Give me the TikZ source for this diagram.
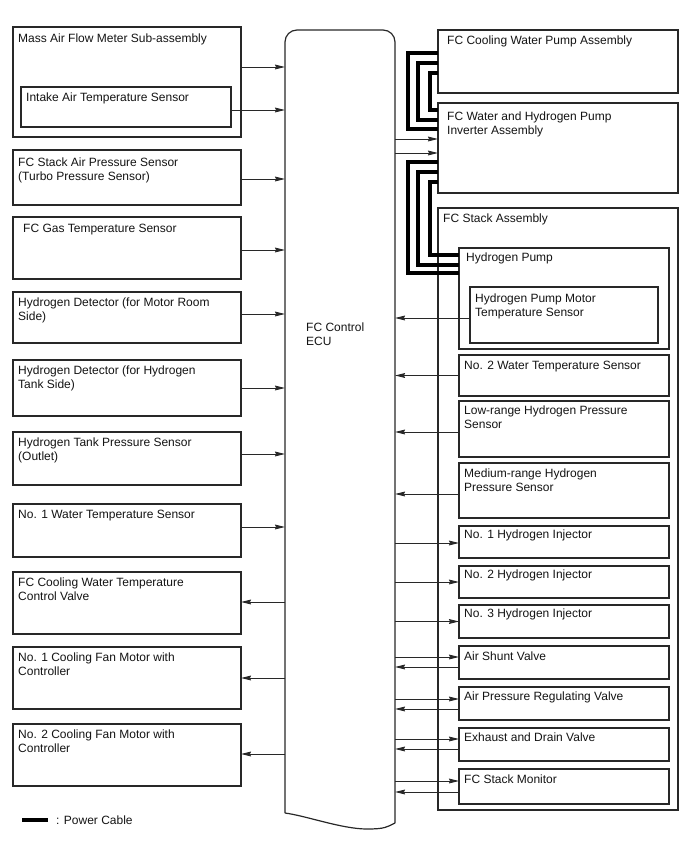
\documentclass[tikz,border=0pt]{standalone}
\usepackage{fontspec}
\setmainfont{Liberation Sans}
\usetikzlibrary{arrows.meta, positioning, calc}
\definecolor{cLine}{RGB}{40,40,40}
\definecolor{cText}{RGB}{20,20,20}
\tikzset{
	comp/.style   ={rectangle, draw=cLine, line width=1.2pt, fill=white, anchor=north west, inner sep=0pt, outer sep=0pt},
	lbox/.style   ={comp, minimum width=228pt},
	rbox/.style   ={comp, minimum width=240pt},
	sbox/.style   ={comp, minimum width=210pt},
	lbl/.style    ={anchor=north west, inner xsep=5pt, inner ysep=6pt, align=left, text=cText, font=\fontsize{12pt}{13.5pt}\selectfont},
	ecubody/.style={rectangle, anchor=north west, inner sep=0pt, outer sep=0pt, minimum width=110pt, minimum height=783pt},
	eculine/.style={draw=cLine, line width=1.2pt},
	% signal and power lines
	sig/.style    ={-{Stealth[length=10pt, width=4.8pt, inset=1pt]}, draw=cLine, line width=0.9pt},
	pwr/.style    ={line width=4.6pt, black},
}

\begin{document}
\begin{tikzpicture}[x=1pt, y=-1pt]
	\useasboundingbox (0,0) rectangle (688,852);
	% control unit
	\node[ecubody] (ecu) at (285,30) {};
	\draw[eculine, rounded corners=12pt] (ecu.south west) -- (ecu.north west) -- (ecu.north east) -- ($(ecu.south east)+(0,10)$);
	\draw[eculine] ($(ecu.south east)+(0,10)$) .. controls +(-8,4) and +(18,0) .. ($(ecu.south west)+(82,16)$) .. controls +(-25,0) and +(22,3) .. (ecu.south west);
	\node[lbl] (ecutxt) at (301,317) {FC Control\\ECU};

	% left column
	\node[lbox, minimum height=110pt, label={[lbl, yshift=-1pt]north west:Mass Air Flow Meter Sub-assembly}] (mafm) at (13,27) {};
	\node[comp, minimum width=210pt, minimum height=40pt, label={[lbl]north west:Intake Air Temperature Sensor}] (iat) at (21,87) {};
	\node[lbox, minimum height=55pt, label={[lbl, yshift=-2pt]north west:{FC Stack Air Pressure Sensor\\(Turbo Pressure Sensor)}}] (fcsap) at (13,150) {};
	\node[lbox, minimum height=62pt, label={[lbl, xshift=5pt, yshift=-1pt]north west:FC Gas Temperature Sensor}] (fcgas) at (13,217) {};
	\node[lbox, minimum height=51pt, label={[lbl]north west:{Hydrogen Detector (for Motor Room\\Side)}}] (hdmr) at (13,292) {};
	\node[lbox, minimum height=56pt, label={[lbl]north west:{Hydrogen Detector (for Hydrogen\\Tank Side)}}] (hdts) at (13,360) {};
	\node[lbox, minimum height=53pt, label={[lbl]north west:{Hydrogen Tank Pressure Sensor\\(Outlet)}}] (htps) at (13,432) {};
	\node[lbox, minimum height=53pt, label={[lbl]north west:No. 1 Water Temperature Sensor}] (wt1) at (13,504) {};
	\node[lbox, minimum height=62pt, label={[lbl]north west:{FC Cooling Water Temperature\\Control Valve}}] (cwv) at (13,572) {};
	\node[lbox, minimum height=62pt, label={[lbl]north west:{No. 1 Cooling Fan Motor with\\Controller}}] (fan1) at (13,647) {};
	\node[lbox, minimum height=62pt, label={[lbl]north west:{No. 2 Cooling Fan Motor with\\Controller}}] (fan2) at (13,724) {};

	% right column
	\node[rbox, minimum height=63pt, label={[lbl, xshift=4pt]north west:FC Cooling Water Pump Assembly}] (cwp) at (438,30) {};
	\node[rbox, minimum height=90pt, label={[lbl, xshift=4pt, yshift=-3pt]north west:{FC Water and Hydrogen Pump\\Inverter Assembly}}] (inv) at (438,103) {};
	\node[rbox, minimum height=602pt, label={[lbl]north west:FC Stack Assembly}] (stack) at (438,208) {};
	\node[sbox, minimum height=101pt, label={[lbl, xshift=2pt, yshift=1pt]north west:Hydrogen Pump}] (hp) at (459,248) {};
	\node[comp, minimum width=188pt, minimum height=56pt, label={[lbl, yshift=-1pt]north west:{Hydrogen Pump Motor\\Temperature Sensor}}] (hpmts) at (470,287) {};
	\node[sbox, minimum height=41pt, label={[lbl]north west:No. 2 Water Temperature Sensor}] (wt2) at (459,355) {};
	\node[sbox, minimum height=56pt, label={[lbl, yshift=1pt]north west:{Low-range Hydrogen Pressure\\Sensor}}] (lrhp) at (459,401) {};
	\node[sbox, minimum height=55pt, label={[lbl]north west:{Medium-range Hydrogen\\Pressure Sensor}}] (mrhp) at (459,463) {};
	\node[sbox, minimum height=32pt, label={[lbl, yshift=2pt]north west:No. 1 Hydrogen Injector}] (inj1) at (459,526) {};
	\node[sbox, minimum height=32pt, label={[lbl, yshift=2pt]north west:No. 2 Hydrogen Injector}] (inj2) at (459,566) {};
	\node[sbox, minimum height=33pt, label={[lbl, yshift=2pt]north west:No. 3 Hydrogen Injector}] (inj3) at (459,605) {};
	\node[sbox, minimum height=33pt, label={[lbl]north west:Air Shunt Valve}] (asv) at (459,646) {};
	\node[sbox, minimum height=33pt, label={[lbl, yshift=1pt]north west:Air Pressure Regulating Valve}] (aprv) at (459,687) {};
	\node[sbox, minimum height=33pt, label={[lbl, yshift=1pt]north west:Exhaust and Drain Valve}] (edv) at (459,728) {};
	\node[sbox, minimum height=35pt, label={[lbl]north west:FC Stack Monitor}] (fsm) at (459,769) {};

	% inputs to the ECU, left side
	\draw[sig] ($(mafm.east)+(0,-15)$) -- ($(mafm.east -| ecu.west)+(0,-15)$);
	\draw[sig] ($(iat.east)+(0,3)$) -- ($(iat.east -| ecu.west)+(0,3)$);
	\draw[sig] ($(fcsap.east)+(0,1.5)$) -- ($(fcsap.east -| ecu.west)+(0,1.5)$);
	\draw[sig] ($(fcgas.east)+(0,2)$) -- ($(fcgas.east -| ecu.west)+(0,2)$);
	\draw[sig] ($(hdmr.east)+(0,-3.5)$) -- ($(hdmr.east -| ecu.west)+(0,-3.5)$);
	\draw[sig] (hdts.east) -- (hdts.east -| ecu.west);
	\draw[sig] ($(htps.east)+(0,-4.5)$) -- ($(htps.east -| ecu.west)+(0,-4.5)$);
	\draw[sig] ($(wt1.east)+(0,-3.5)$) -- ($(wt1.east -| ecu.west)+(0,-3.5)$);
	% outputs, left side
	\draw[sig] ($(cwv.east -| ecu.west)+(0,-1)$) -- ($(cwv.east)+(0,-1)$);
	\draw[sig] (fan1.east -| ecu.west) -- (fan1.east);
	\draw[sig] ($(fan2.east -| ecu.west)+(0,-1)$) -- ($(fan2.east)+(0,-1)$);

	% right side
	\draw[sig] ($(inv.west -| ecu.east)+(0,-9)$) -- ($(inv.west)+(0,-9)$);
	\draw[sig] ($(inv.west -| ecu.east)+(0,5)$) -- ($(inv.west)+(0,5)$);
	\draw[sig] ($(hpmts.west)+(0,3)$) -- ($(hpmts.west -| ecu.east)+(0,3)$);
	\draw[sig] (wt2.west) -- (wt2.west -| ecu.east);
	\draw[sig] ($(lrhp.west)+(0,3)$) -- ($(lrhp.west -| ecu.east)+(0,3)$);
	\draw[sig] ($(mrhp.west)+(0,3.5)$) -- ($(mrhp.west -| ecu.east)+(0,3.5)$);
	\draw[sig] ($(inj1.west -| ecu.east)+(0,1)$) -- ($(inj1.west)+(0,1)$);
	\draw[sig] (inj2.west -| ecu.east) -- (inj2.west);
	\draw[sig] (inj3.west -| ecu.east) -- (inj3.west);
	\draw[sig] ($(asv.west -| ecu.east)+(0,-5.5)$) -- ($(asv.west)+(0,-5.5)$);
	\draw[sig] ($(asv.west)+(0,4.5)$) -- ($(asv.west -| ecu.east)+(0,4.5)$);
	\draw[sig] ($(aprv.west -| ecu.east)+(0,-4.5)$) -- ($(aprv.west)+(0,-4.5)$);
	\draw[sig] ($(aprv.west)+(0,5.5)$) -- ($(aprv.west -| ecu.east)+(0,5.5)$);
	\draw[sig] ($(edv.west -| ecu.east)+(0,-5.5)$) -- ($(edv.west)+(0,-5.5)$);
	\draw[sig] ($(edv.west)+(0,4.5)$) -- ($(edv.west -| ecu.east)+(0,4.5)$);
	\draw[sig] ($(fsm.west -| ecu.east)+(0,-5.5)$) -- ($(fsm.west)+(0,-5.5)$);
	\draw[sig] ($(fsm.west)+(0,5.5)$) -- ($(fsm.west -| ecu.east)+(0,5.5)$);

	% power cables
	\draw[pwr] ($(cwp.north west)+(0,23)$) -- ++(-30,0) |- ($(inv.north west)+(0,26)$);
	\draw[pwr] ($(cwp.north west)+(0,33)$) -- ++(-20,0) |- ($(inv.north west)+(0,17)$);
	\draw[pwr] ($(cwp.north west)+(0,43)$) -- ++(-8,0) |- ($(inv.north west)+(0,7)$);
	\draw[pwr] ($(inv.north west)+(0,59)$) -- ++(-30,0) |- ($(hp.north west)+(0,25)$);
	\draw[pwr] ($(inv.north west)+(0,69)$) -- ++(-20,0) |- ($(hp.north west)+(0,17)$);
	\draw[pwr] ($(inv.north west)+(0,79)$) -- ++(-8,0) |- ($(hp.north west)+(0,7)$);

	% legend
	\node[lbl, anchor=west, inner sep=0pt] (legtxt) at (56,820) {: Power Cable};
	\draw[pwr] ($(legtxt.west)+(-34,0)$) -- ++(26,0);
\end{tikzpicture}
\end{document}
